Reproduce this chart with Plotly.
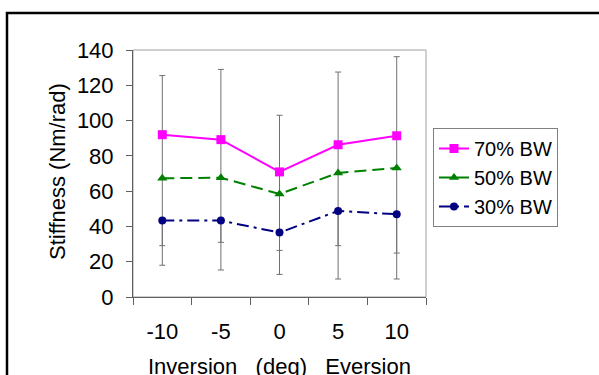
import plotly.graph_objects as go

categories = ["-10", "-5", "0", "5", "10"]
bw70 = [92.0, 89.2, 70.9, 86.3, 91.4]
bw50 = [67.3, 67.6, 58.4, 70.3, 73.1]
bw30 = [43.3, 43.3, 36.5, 48.8, 46.9]
# error-bar extents
upper70 = [125.5, 129.0, 103.0, 127.5, 136.2]
lower50 = [29.1, 31.0, 26.4, 29.1, 24.9]
lower30 = [18.0, 15.3, 12.8, 10.2, 10.2]

FONT = "Liberation Sans, Arial, sans-serif"
EB = "#707070"
FS = 22

W, H = 599, 375
L, R, T, B = 133, 426, 50, 297

fig = go.Figure()
fig.add_trace(go.Scatter(
    x=categories, y=bw70, name="70% BW", mode="lines+markers",
    line=dict(color="#FF00FF", width=2),
    marker=dict(symbol="square", size=9, color="#FF00FF"),
    error_y=dict(type="data", symmetric=False,
                 array=[u - v for u, v in zip(upper70, bw70)],
                 arrayminus=[v - m for v, m in zip(bw70, bw50)],
                 color=EB, thickness=1, width=3),
))
fig.add_trace(go.Scatter(
    x=categories, y=bw50, name="50% BW", mode="lines+markers",
    line=dict(color="#008000", width=2, dash="12px,6px"),
    marker=dict(symbol="triangle-up", size=9, color="#008000"),
    error_y=dict(type="data", symmetric=False,
                 array=[0] * 5,
                 arrayminus=[v - lo for v, lo in zip(bw50, lower50)],
                 color=EB, thickness=1, width=3),
))
fig.add_trace(go.Scatter(
    x=categories, y=bw30, name="30% BW", mode="lines+markers",
    line=dict(color="#000080", width=2, dash="12px,5px,3px,5px"),
    marker=dict(symbol="circle", size=8, color="#000080"),
    error_y=dict(type="data", symmetric=False,
                 array=[0] * 5,
                 arrayminus=[v - lo for v, lo in zip(bw30, lower30)],
                 color=EB, thickness=1, width=3),
))

pw, ph = R - L, B - T
def px(x): return (x - L) / pw
def py(y): return (B - y) / ph

shapes = [
    dict(type="rect", xref="paper", yref="paper", x0=0, x1=1, y0=0, y1=1,
         line=dict(color="#A0A0A0", width=1), layer="below"),
    dict(type="rect", xref="paper", yref="paper", x0=px(7), x1=px(640),
         y0=py(420), y1=py(13), line=dict(color="black", width=2.5)),
]

annotations = [
    dict(text="Inversion\u00a0\u00a0\u00a0(deg)\u00a0\u00a0\u00a0Eversion",
         xref="paper", yref="paper", x=0.5, y=py(366), showarrow=False,
         xanchor="center", yanchor="middle", font=dict(size=FS, color="black", family=FONT)),
    dict(text="Stiffness (Nm/rad)", xref="paper", yref="paper",
         x=px(57), y=py(172), showarrow=False, textangle=-90,
         xanchor="center", yanchor="middle", font=dict(size=FS, color="black", family=FONT)),
]

fig.update_layout(
    width=W, height=H,
    margin=dict(l=L, r=W - R, t=T, b=H - B, pad=0),
    paper_bgcolor="white", plot_bgcolor="white",
    font=dict(family=FONT, size=FS, color="black"),
    shapes=shapes, annotations=annotations,
    showlegend=True,
    legend=dict(x=px(433), y=py(128), xanchor="left", yanchor="top",
                bordercolor="#808080", borderwidth=1, bgcolor="white",
                font=dict(size=20, family=FONT, color="black")),
)
fig.update_xaxes(type="category", range=[-0.5, 4.5], tickson="boundaries",
                 ticks="outside", ticklen=7, tickcolor="#606060",
                 showline=True, linecolor="#606060", linewidth=1,
                 showgrid=False, zeroline=False,
                 ticklabelstandoff=15,
                 tickfont=dict(size=FS, family=FONT, color="black"))
fig.update_yaxes(range=[0, 140], dtick=20, ticks="outside", ticklen=6,
                 tickcolor="#606060", showline=True, linecolor="#606060",
                 linewidth=1, showgrid=False, zeroline=False,
                 ticklabelstandoff=8,
                 tickfont=dict(size=FS, family=FONT, color="black"))

fig.write_html("out.html", config={"displayModeBar": False},
               post_script="document.body.style.margin='0';")
